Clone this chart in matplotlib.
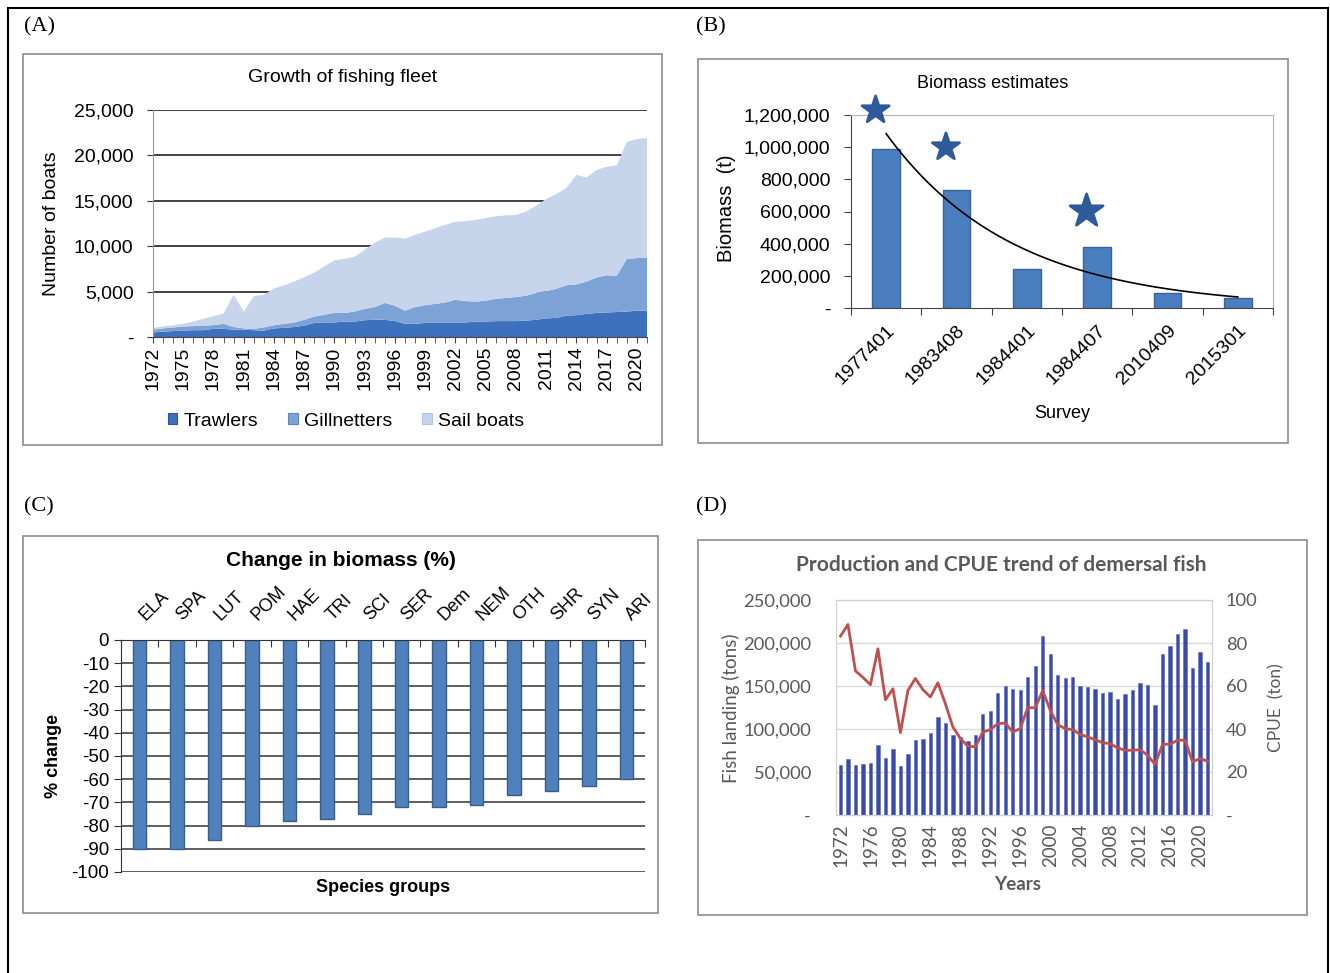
import matplotlib
matplotlib.use("Agg")
import matplotlib.pyplot as plt
import numpy as np
from matplotlib.patches import Rectangle, Patch
from matplotlib.ticker import FuncFormatter, MultipleLocator
from matplotlib.transforms import ScaledTranslation

plt.rcParams["axes.unicode_minus"] = False

W, H = 1330, 973

# ---- (A) growth of fishing fleet ----
fleet_years = list(range(1972, 2022))
trawlers = [500, 600, 650, 700, 750, 750, 900, 900, 800, 800,
            750, 700, 950, 1000, 1100, 1250, 1550, 1600, 1600, 1700,
            1700, 1850, 1900, 1900, 1750, 1450, 1450, 1550, 1600, 1600,
            1600, 1600, 1700, 1700, 1750, 1750, 1750, 1800, 1900, 2050,
            2100, 2350, 2400, 2550, 2650, 2700, 2750, 2800, 2900, 2900]
gillnetters = [300, 350, 400, 450, 450, 500, 400, 550, 300, 150,
               150, 350, 350, 450, 500, 650, 700, 850, 1050, 950,
               1100, 1250, 1400, 1850, 1700, 1450, 1850, 1950, 2050, 2200,
               2500, 2350, 2200, 2300, 2450, 2550, 2650, 2750, 2950, 3000,
               3200, 3350, 3400, 3550, 3900, 4100, 4000, 5800, 5800, 5850]
sail_boats = [200, 220, 250, 300, 500, 750, 1000, 1150, 3550, 1850,
              3600, 3600, 4050, 4250, 4500, 4700, 4850, 5350, 5800, 5950,
              6050, 6500, 7100, 7200, 7500, 7950, 7950, 8100, 8350, 8550,
              8600, 8800, 9000, 9100, 9100, 9100, 9050, 9250, 9600, 10150,
              10450, 10700, 12050, 11450, 11850, 11950, 12150, 12900, 13100, 13150]
fleet_names = ["Trawlers", "Gillnetters", "Sail boats"]

# ---- (B) biomass estimates ----
surveys = ["1977401", "1983408", "1984401", "1984407", "2010409", "2015301"]
biomass = [988000, 731000, 243000, 378000, 95500, 64000]
star_idx = [0, 1, 3]
star_vals = [1230000, 1000000, 602000]

# ---- (C) change in biomass ----
groups = ["ELA", "SPA", "LUT", "POM", "HAE", "TRI", "SCI", "SER", "Dem",
          "NEM", "OTH", "SHR", "SYN", "ARI"]
pct_change = [-90, -90, -86, -80, -78, -77, -75, -72, -72, -71, -67, -65, -63, -60]

# ---- (D) production and CPUE ----
prod_years = list(range(1972, 2022))
landing = [58000, 65000, 58000, 59000, 60000, 81000, 66000, 77000, 57000, 71000,
           87000, 88000, 95000, 114000, 107000, 93000, 91000, 86000, 93000, 117000,
           121000, 142000, 150000, 147000, 145000, 161000, 173000, 208000, 187000, 163000,
           159000, 160000, 150000, 149000, 147000, 142000, 143000, 135000, 141000, 145000,
           153000, 151000, 128000, 187000, 196000, 211000, 216000, 171000, 189000, 178000]
cpue = [83.2, 88.6, 67.0, 64.0, 60.6, 77.3, 53.6, 58.7, 38.3, 57.9,
        63.5, 58.3, 54.9, 61.5, 51.8, 41.0, 35.6, 32.0, 31.7, 38.6,
        39.7, 42.5, 42.8, 38.6, 40.2, 49.9, 49.9, 57.9, 48.7, 42.0,
        40.2, 39.7, 37.5, 36.3, 35.0, 33.6, 33.2, 31.2, 30.1, 30.1,
        30.4, 27.8, 23.5, 32.9, 32.9, 34.8, 34.8, 24.7, 26.3, 25.0]


def rect(l, t, r, b):
    return [l / W, 1 - b / H, (r - l) / W, (b - t) / H]


def dash_zero(v, pos):
    return "-" if v == 0 else f"{v:,.0f}"


fig = plt.figure(figsize=(W / 100, H / 100), dpi=100)
fig.patch.set_facecolor("white")

# outer frame and panel frames
fig.add_artist(Rectangle((8 / W, -0.02), 1320 / W, 1 - 8 / H + 0.02,
                         transform=fig.transFigure, fill=False, ec="black", lw=1.5))
for l, t, r, b in [(23, 54, 662, 445), (698, 59, 1288, 443),
                   (23, 536, 658, 913), (698, 540, 1307, 915)]:
    fig.add_artist(Rectangle((l / W, 1 - b / H), (r - l) / W, (b - t) / H,
                             transform=fig.transFigure, fill=False, ec="#8c8c8c", lw=1.2))

serif = "Liberation Serif"
for lab, x, y in [("(A)", 24, 27), ("(B)", 696, 27), ("(C)", 24, 507), ("(D)", 696, 507)]:
    fig.text(x / W, 1 - y / H, lab, family=serif, fontsize=16, va="center", ha="left")

sans = "Liberation Sans"

# ---------------- A ----------------
axA = fig.add_axes(rect(153, 110, 647, 337))
colsA = ["#3d70bd", "#7da2d6", "#c6d5ec"]
axA.stackplot(fleet_years, trawlers, gillnetters, sail_boats, colors=colsA, lw=0)
axA.set_xlim(1972, 2021)
axA.set_ylim(0, 25000)
axA.set_yticks(range(0, 25001, 5000))
axA.yaxis.set_major_formatter(FuncFormatter(dash_zero))
axA.grid(axis="y", color="#333333", lw=1.3)
axA.set_axisbelow(True)
axA.set_xticks(range(1972, 2022, 3))
axA.xaxis.set_minor_locator(MultipleLocator(1))
for s in ["top", "right"]:
    axA.spines[s].set_visible(False)
axA.spines["left"].set_color("#999999")
axA.spines["bottom"].set_color("#444444")
axA.tick_params(axis="y", length=4, color="#333333", labelsize=14, pad=10)
axA.tick_params(axis="x", which="both", length=4, color="#444444", labelsize=14,
                rotation=90, pad=3)
for t in axA.get_xticklabels() + axA.get_yticklabels():
    t.set_family(sans)
fig.text(343 / W, 1 - 77 / H, "Growth of fishing fleet", family=sans, fontsize=14,
         ha="center", va="center")
fig.text(52 / W, 1 - 224 / H, "Number of boats", family=sans, fontsize=14,
         rotation=90, ha="center", va="center")
handles = [Patch(fc=c, ec=e, lw=0.8) for c, e in
           zip(colsA, ["#2a5597", "#5a85c2", "#b0c4e4"])]
fig.legend(handles, fleet_names, loc="center", bbox_to_anchor=(346 / W, 1 - 421 / H),
           ncol=3, frameon=False, prop={"family": sans, "size": 14},
           handlelength=0.5, handleheight=0.5, handletextpad=0.35, columnspacing=1.5)

# ---------------- B ----------------
axB = fig.add_axes(rect(851, 115, 1273, 308))
xb = np.arange(len(surveys))
axB.bar(xb, biomass, width=0.39, color="#4a7ebf", edgecolor="#35649f", lw=1, zorder=2)
axB.scatter(np.array(star_idx) - 0.15, star_vals, marker="*", s=[420, 420, 620],
            color="#2e5a9a", edgecolor="#2e5a9a", lw=2, zorder=3, clip_on=False)
coef = np.polyfit(xb, np.log(biomass), 1)
xt = np.linspace(0, 5, 200)
axB.plot(xt, np.exp(coef[1] + coef[0] * xt), color="black", lw=1.2, zorder=4)
axB.set_xlim(-0.5, 5.5)
axB.set_ylim(0, 1200000)
axB.set_yticks(range(0, 1200001, 200000))
axB.yaxis.set_major_formatter(FuncFormatter(dash_zero))
axB.set_xticks(np.arange(-0.5, 6, 1))
axB.set_xticklabels([])
axB.set_xticks(xb, minor=True)
axB.set_xticklabels(surveys, minor=True, rotation=45, ha="right", rotation_mode="anchor")
axB.tick_params(axis="x", which="major", length=5, color="#444444", direction="out")
axB.tick_params(axis="x", which="minor", length=0, labelsize=14, pad=10)
axB.tick_params(axis="y", length=5, color="#444444", labelsize=14, pad=10)
for s in ["top", "right"]:
    axB.spines[s].set_color("#b3b3b3")
for s in ["left", "bottom"]:
    axB.spines[s].set_color("#444444")
for t in axB.get_xticklabels(minor=True) + axB.get_yticklabels():
    t.set_family(sans)
fig.text(993 / W, 1 - 83 / H, "Biomass estimates", family=sans, fontsize=13,
         ha="center", va="center")
fig.text(1062 / W, 1 - 413 / H, "Survey", family=sans, fontsize=13,
         ha="center", va="center")
fig.text(727 / W, 1 - 208 / H, "Biomass  (t)", family=sans, fontsize=14.5,
         rotation=90, ha="center", va="center")

# ---------------- C ----------------
axC = fig.add_axes(rect(121, 640, 645, 872))
xc = np.arange(len(groups))
axC.bar(xc, pct_change, width=0.36, color="#4f81bd", edgecolor="#385d8a", lw=1, zorder=2)
axC.set_xlim(-0.5, 13.5)
axC.set_ylim(-100, 0)
axC.set_yticks(range(-100, 1, 10))
axC.grid(axis="y", color="#333333", lw=1.1)
axC.set_axisbelow(True)
axC.xaxis.set_ticks_position("top")
axC.set_xticks(np.arange(-0.5, 14, 1))
axC.set_xticklabels([])
axC.set_xticks(xc, minor=True)
axC.set_xticklabels(groups, minor=True, rotation=45, ha="left", va="bottom",
                    rotation_mode="anchor")
axC.tick_params(axis="x", which="major", length=5, color="#333333", direction="in")
axC.tick_params(axis="x", which="minor", length=0, labelsize=13, pad=12)
axC.tick_params(axis="y", length=5, color="#333333", labelsize=13.5)
for s in ["bottom", "right"]:
    axC.spines[s].set_visible(False)
axC.spines["left"].set_color("#333333")
axC.spines["top"].set_color("#333333")
shift = ScaledTranslation(6 / 72, 0, fig.dpi_scale_trans)
for t in axC.get_xticklabels(minor=True):
    t.set_transform(t.get_transform() + shift)
for t in axC.get_xticklabels(minor=True) + axC.get_yticklabels():
    t.set_family(sans)
fig.text(341 / W, 1 - 560 / H, "Change in biomass (%)", family=sans, fontsize=15,
         fontweight="bold", ha="center", va="center")
fig.text(383 / W, 1 - 887 / H, "Species groups", family=sans, fontsize=13,
         fontweight="bold", ha="center", va="center")
fig.text(53 / W, 1 - 756 / H, "% change", family=sans, fontsize=13,
         fontweight="bold", rotation=90, ha="center", va="center")

# ---------------- D ----------------
gray = "#595959"
fontD = "Lato"
axD = fig.add_axes(rect(836, 600, 1212, 815))
axD.bar(prod_years, landing, width=0.45, color="#3a4aa8", edgecolor="#5a6ac0", lw=0.4,
        zorder=2)
axD.set_xlim(1971.4, 2021.6)
axD.set_ylim(0, 250000)
axD.set_yticks(range(0, 250001, 50000))
axD.yaxis.set_major_formatter(FuncFormatter(dash_zero))
axD.grid(axis="y", color="#dadada", lw=1)
axD.set_axisbelow(True)
axD.set_xticks(range(1972, 2021, 4))
axD.tick_params(axis="x", length=0, labelsize=13.5, labelcolor=gray, rotation=90, pad=6)
axD.tick_params(axis="y", length=0, labelsize=13.2, labelcolor=gray, pad=18)
for s in axD.spines.values():
    s.set_color("#d0d0d0")
axD2 = axD.twinx()
axD2.plot(prod_years, cpue, color="#c0504d", lw=2, zorder=3)
axD2.set_ylim(0, 100)
axD2.set_yticks(range(0, 101, 20))
axD2.yaxis.set_major_formatter(FuncFormatter(dash_zero))
axD2.tick_params(axis="y", length=0, labelsize=13.2, labelcolor=gray, pad=10)
for s in axD2.spines.values():
    s.set_color("#d0d0d0")
for t in axD.get_xticklabels() + axD.get_yticklabels() + axD2.get_yticklabels():
    t.set_family(fontD)
fig.text(1001 / W, 1 - 565 / H, "Production and CPUE trend of demersal fish", family=fontD,
         fontsize=15, fontweight="bold", color=gray, ha="center", va="center")
fig.text(1018 / W, 1 - 885 / H, "Years", family=fontD, fontsize=13.5, fontweight="bold",
         color=gray, ha="center", va="center")
fig.text(731 / W, 1 - 708 / H, "Fish landing (tons)", family=fontD, fontsize=13.5,
         color=gray, rotation=90, ha="center", va="center")
fig.text(1276 / W, 1 - 708 / H, "CPUE  (ton)", family=fontD, fontsize=12.5,
         color=gray, rotation=90, ha="center", va="center")

fig.savefig("out.png", dpi=100)
